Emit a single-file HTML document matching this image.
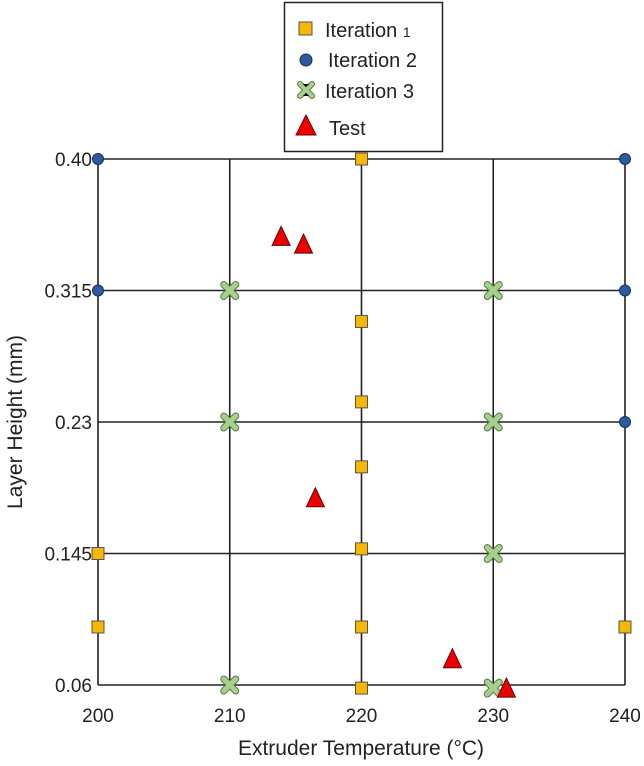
<!DOCTYPE html>
<html><head><meta charset="utf-8"><style>
body{margin:0;background:#fff;}
svg{display:block;font-family:"Liberation Sans",Arial,sans-serif;}
</style></head><body>
<svg id="chart" width="644" height="766" viewBox="0 0 644 766" xmlns="http://www.w3.org/2000/svg">
<g id="grid"></g>
<g id="ticks"></g>
<g id="marks"></g>
<text x="361" y="755" text-anchor="middle" font-size="21" fill="#222">Extruder Temperature (°C)</text>
<text transform="translate(22,422) rotate(-90)" text-anchor="middle" font-size="21" fill="#222">Layer Height (mm)</text>
<g>
<rect x="284.5" y="2.5" width="158" height="149" fill="#fff" stroke="#222" stroke-width="1.5"/>
<g><rect x="299" y="22" width="13" height="13" fill="#f5b800" stroke="#555" stroke-width="1"/><text x="325" y="37" font-size="20" fill="#222">Iteration <tspan font-size="14">1</tspan></text></g>
<g><circle cx="306" cy="60" r="6" fill="#2c5aa0" stroke="#1a2f55" stroke-width="1"/><text x="328" y="67" font-size="20" fill="#222">Iteration 2</text></g>
<g><path d="M300,84 L306,90 L312,84 M300,96 L306,90 L312,96" stroke="#5a7a4a" stroke-width="6" stroke-linecap="round"/><path d="M300,84 L306,90 L312,84 M300,96 L306,90 L312,96" stroke="#a8d08d" stroke-width="4" stroke-linecap="round"/><text x="325" y="98" font-size="20" fill="#222">Iteration 3</text></g>
<g><polygon points="306,115 316,135 296,135" fill="#e00" stroke="#600" stroke-width="1"/><text x="329" y="135" font-size="20" fill="#222">Test</text></g>
</g>
</svg>
<script>
const xTicks=[200,210,220,230,240];
const yTicks=[0.06,0.145,0.23,0.315,0.40];
const yTickLabels=["0.06","0.145","0.23","0.315","0.40"];
const it1X=[220,220,220,220,220,220,220,200,200,240];
const it1Y=[0.40,0.295,0.243,0.201,0.148,0.0975,0.058,0.145,0.0975,0.0975];
const it2X=[200,240,200,240,240];
const it2Y=[0.40,0.40,0.315,0.315,0.23];
const it3X=[210,230,210,230,230,210,230];
const it3Y=[0.315,0.315,0.23,0.23,0.145,0.06,0.058];
const testX=[213.9,215.6,216.5,226.9,231.0];
const testY=[0.35,0.345,0.181,0.077,0.058];
const NS="http://www.w3.org/2000/svg";
function sx(v){return 98+(v-200)*(625-98)/40;}
function sy(v){return 685-(v-0.06)*(685-159)/0.34;}
function mk(tag,attrs,parent){const e=document.createElementNS(NS,tag);for(const k in attrs)e.setAttribute(k,attrs[k]);parent.appendChild(e);return e;}
const grid=document.getElementById('grid'),ticks=document.getElementById('ticks'),marks=document.getElementById('marks');
xTicks.forEach(t=>{const l=mk('line',{x1:sx(t),x2:sx(t),y1:sy(0.40),y2:sy(0.06),stroke:'#222','stroke-width':1.6},grid);


const tx=mk('text',{x:sx(t),y:722,'text-anchor':'middle','font-size':19,fill:'#222'},ticks);tx.textContent=t;

});
yTicks.forEach((t,i)=>{const l=mk('line',{x1:sx(200),x2:sx(240),y1:sy(t),y2:sy(t),stroke:'#222','stroke-width':1.6},grid);


const tx=mk('text',{x:92,y:sy(t)+7,'text-anchor':'end','font-size':19,fill:'#222'},ticks);tx.textContent=yTickLabels[i];

});
it1X.forEach((x,i)=>{const cx=sx(x),cy=sy(it1Y[i]);const e=mk('rect',{x:cx-6,y:cy-6,width:12,height:12,fill:'#f5b800',stroke:'#555','stroke-width':1},marks);

});
it2X.forEach((x,i)=>{const e=mk('circle',{cx:sx(x),cy:sy(it2Y[i]),r:5.5,fill:'#2c5aa0',stroke:'#1a2f55','stroke-width':1},marks);

});
it3X.forEach((x,i)=>{const cx=sx(x),cy=sy(it3Y[i]);const d=`M${cx-6},${cy-6} L${cx+6},${cy+6} M${cx+6},${cy-6} L${cx-6},${cy+6}`;
const g=mk('g',{},marks);


mk('path',{d:d,stroke:'#5a7a4a','stroke-width':7,'stroke-linecap':'round'},g);
mk('path',{d:d,stroke:'#a8d08d','stroke-width':5,'stroke-linecap':'round'},g);});
testX.forEach((x,i)=>{const cx=sx(x),cy=sy(testY[i]);const e=mk('polygon',{points:`${cx},${cy-10} ${cx+9},${cy+9} ${cx-9},${cy+9}`,fill:'#e00',stroke:'#600','stroke-width':1},marks);

});
</script>
</body></html>
